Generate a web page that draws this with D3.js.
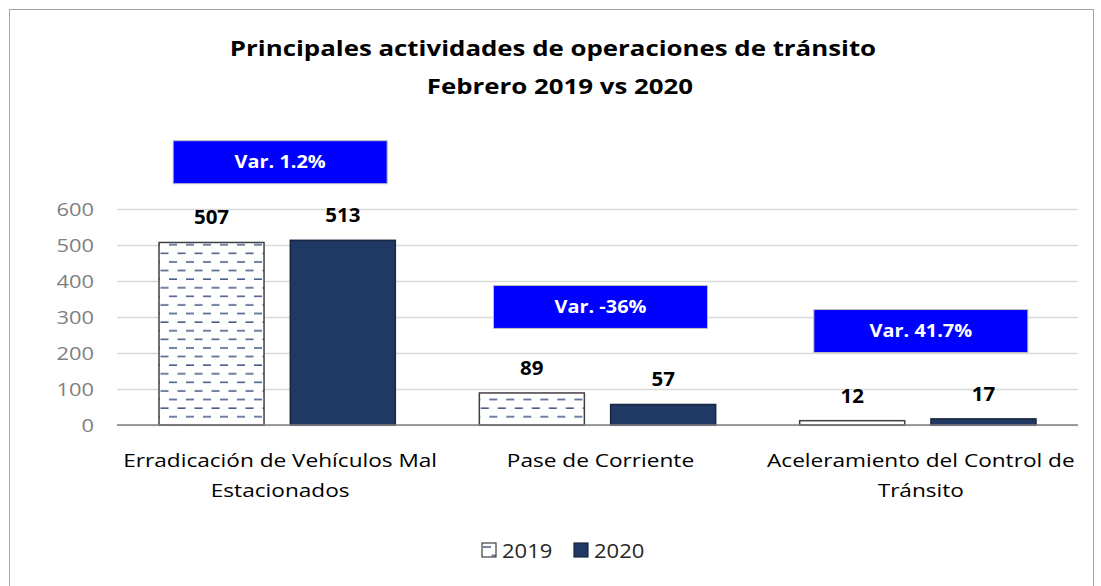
<!DOCTYPE html>
<html lang="en">
<head>
    <meta charset="UTF-8">
    <title>Principales actividades de operaciones de tránsito</title>
    <script src="https://d3js.org/d3.v7.min.js"></script>
    <style>
        body { margin: 0; background: #fff; }
        text { font-family: 'Open Sans', sans-serif; }
        .tick text { fill: #7f7f7f; font-size: 19px; font-family: 'Open Sans', sans-serif; }
        .title { font-weight: bold; font-size: 21px; fill: #000; text-anchor: middle; }
        .val { font-weight: bold; font-size: 19px; fill: #000; text-anchor: middle; }
        .cat { font-size: 19px; fill: #000; text-anchor: middle; }
        .var { font-weight: bold; font-size: 17px; fill: #fff; text-anchor: middle; }
    </style>
</head>
<body>
<svg height="586" width="1101"></svg>
<script>
    const categories = [["Erradicación de Vehículos Mal", "Estacionados"], ["Pase de Corriente"], ["Aceleramiento del Control de", "Tránsito"]];
    const years = ["2019", "2020"];
    const values2019 = [507, 89, 12];
    const values2020 = [513, 57, 17];
    const variations = ["Var. 1.2%", "Var. -36%", "Var. 41.7%"];
    const varLevels = [730, 328, 261];   // where the blue boxes sit, in axis units
    const yTicks = [0, 100, 200, 300, 400, 500, 600];

    const svg = d3.select("svg");
    const plotLeft = 117, plotRight = 1078, plotTop = 209, plotBottom = 425;

    // the original font is drawn wider than Open Sans, so stretch text a bit
    function stretch(sel, k) {
        sel.each(function () {
            const w = this.getComputedTextLength();
            d3.select(this).attr("textLength", w * k).attr("lengthAdjust", "spacingAndGlyphs");
        });
    }

    const x = d3.scaleBand().domain(d3.range(categories.length)).range([plotLeft, plotRight]).paddingInner(0).paddingOuter(0);
    const inner = d3.scaleBand().domain(years).range([42, x.bandwidth() - 42]).paddingInner(0.2);
    const y = d3.scaleLinear().domain([0, 600]).range([plotBottom, plotTop]);

    // hatch for 2019
    const defs = svg.append("defs");
    const pat = defs.append("pattern").attr("id", "dash").attr("patternUnits", "userSpaceOnUse")
        .attr("width", 17).attr("height", 17.2);
    pat.append("rect").attr("width", 17).attr("height", 17.2).attr("fill", "#fff");
    pat.append("line").attr("x1", 1).attr("x2", 9).attr("y1", 4).attr("y2", 4)
        .attr("stroke", "#4a5f85").attr("stroke-width", 1.6);
    pat.append("line").attr("x1", 9.5).attr("x2", 17.5).attr("y1", 12.6).attr("y2", 12.6)
        .attr("stroke", "#4a5f85").attr("stroke-width", 1.6);
    pat.append("line").attr("x1", -8).attr("x2", 0.5).attr("y1", 12.6).attr("y2", 12.6)
        .attr("stroke", "#4a5f85").attr("stroke-width", 1.6);

    // outer frame
    svg.append("rect").attr("x", 9.5).attr("y", 9.5).attr("width", 1084).attr("height", 600)
        .attr("fill", "none").attr("stroke", "#a6a6a6");

    const t1 = svg.append("text").attr("class", "title").attr("x", 553).attr("y", 56)
        .text("Principales actividades de operaciones de tránsito");
    const t2 = svg.append("text").attr("class", "title").attr("x", 560).attr("y", 94)
        .text("Febrero 2019 vs 2020");
    stretch(t1, 1.23);
    stretch(t2, 1.23);

    // gridlines + y axis
    const yAxis = svg.append("g").attr("transform", `translate(${plotLeft},0)`)
        .call(d3.axisLeft(y).tickValues(yTicks).tickSize(-(plotRight - plotLeft)).tickPadding(23));
    yAxis.select(".domain").remove();
    yAxis.selectAll(".tick line").attr("stroke", "#d9d9d9").attr("stroke-width", 1.3);
    stretch(yAxis.selectAll(".tick text"), 1.15);

    const groups = svg.selectAll("g.cat").data(categories).enter().append("g")
        .attr("class", "cat").attr("transform", (d, i) => `translate(${x(i)},0)`);

    const rows = (i) => [
        {year: "2019", v: values2019[i]},
        {year: "2020", v: values2020[i]}
    ];

    groups.selectAll("rect.bar").data((d, i) => rows(i)).enter().append("rect")
        .attr("class", "bar")
        .attr("x", d => inner(d.year)).attr("width", inner.bandwidth())
        .attr("y", d => y(d.v)).attr("height", d => y(0) - y(d.v))
        .attr("fill", d => d.year === "2019" ? "url(#dash)" : "#203864")
        .attr("stroke", d => d.year === "2019" ? "#404040" : "#1a2740")
        .attr("stroke-width", 1.5);

    const vals = groups.selectAll("text.val").data((d, i) => rows(i)).enter().append("text")
        .attr("class", "val")
        .attr("x", d => inner(d.year) + inner.bandwidth() / 2)
        .attr("y", d => y(d.v) - 18)
        .text(d => d.v);
    stretch(vals, 1.08);

    // base axis line
    svg.append("line").attr("x1", plotLeft).attr("x2", plotRight).attr("y1", y(0)).attr("y2", y(0))
        .attr("stroke", "#7f7f7f").attr("stroke-width", 1.3);

    // category labels, one text per line
    groups.each(function (d) {
        const g = d3.select(this);
        d.forEach((line, k) => {
            const t = g.append("text").attr("class", "cat")
                .attr("x", x.bandwidth() / 2 + 3).attr("y", 467 + k * 30).text(line);
            stretch(t, 1.19);
        });
    });

    // variation boxes
    const boxW = 214, boxH = 43;
    const vb = groups.append("g").attr("transform", (d, i) => `translate(${x.bandwidth() / 2 + 3},${y(varLevels[i])})`);
    vb.append("rect").attr("x", -boxW / 2).attr("y", -boxH / 2).attr("width", boxW).attr("height", boxH)
        .attr("fill", "#0000ff").attr("stroke", "#bfbfbf").attr("stroke-width", 1);
    const vt = vb.append("text").attr("class", "var").attr("y", 6).text((d, i) => variations[i]);
    stretch(vt, 1.17);

    // legend
    const legend = svg.append("g").attr("transform", "translate(482,543)");
    const lx = [0, 92];
    years.forEach((yr, i) => {
        legend.append("rect").attr("x", lx[i]).attr("y", 0).attr("width", 14).attr("height", 14)
            .attr("fill", i === 0 ? "url(#dash)" : "#203864")
            .attr("stroke", i === 0 ? "#404040" : "#1a2740").attr("stroke-width", 1.2);
        const lt = legend.append("text").attr("x", lx[i] + 20).attr("y", 15).attr("font-size", 20).attr("fill", "#262626").text(yr);
        stretch(lt, 1.1);
    });
</script>
</body>
</html>
